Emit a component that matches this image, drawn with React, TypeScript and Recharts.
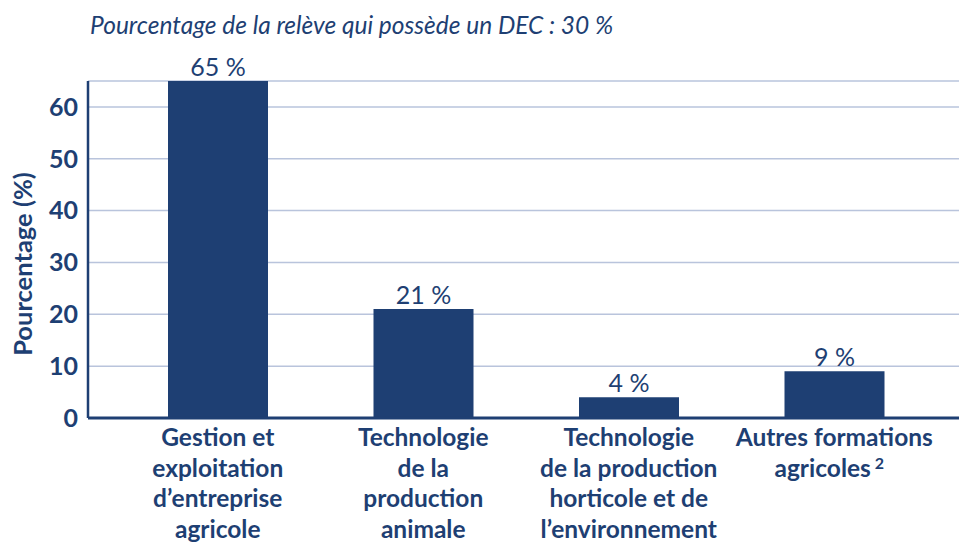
import React from "react";
import { BarChart, Bar, XAxis, YAxis, CartesianGrid, LabelList } from "recharts";

const categories = [
  "Gestion et\nexploitation\nd’entreprise\nagricole",
  "Technologie\nde la\nproduction\nanimale",
  "Technologie\nde la production\nhorticole et de\nl’environnement",
  "Autres formations\nagricoles^2",
];
const values = [65, 21, 4, 9];
const yTicks = [0, 10, 20, 30, 40, 50, 60];
const title = "Pourcentage de la relève qui possède un DEC\u202F: 30 %";
const yLabel = "Pourcentage (%)";

const data = categories.map((c, i) => ({ name: c, value: values[i] }));

const BLUE = "#1e3f73";
const GRID = "#b9c4dc";
const FONT = "Lato, 'Open Sans', sans-serif";

const XTick = (props: any) => {
  const { x, y, payload } = props;
  const lines: string[] = String(payload.value).split("\n");
  return (
    <text x={x} y={y} textAnchor="middle" fill={BLUE} fontFamily={FONT} fontWeight={700} fontSize={24.5}>
      {lines.map((ln, i) => {
        const sup = ln.endsWith("^2");
        const base = sup ? ln.slice(0, -2) : ln;
        return (
          <tspan key={i} x={x + (sup ? -5 : 0)} y={y + 20 + i * 30.5}>
            {base}
            {sup ? (
              <tspan fontSize={16} dy={-8}>{" 2"}</tspan>
            ) : null}
          </tspan>
        );
      })}
    </text>
  );
};

export default function App() {
  return (
    <div style={{ position: "absolute", left: 0, top: 0, width: 959, height: 545, background: "#fff" }}>
      <div
        style={{
          position: "absolute",
          left: 90,
          top: 10,
          fontFamily: FONT,
          fontStyle: "italic",
          fontWeight: 400,
          fontSize: 24.5,
          color: BLUE,
          whiteSpace: "nowrap",
          lineHeight: "30px",
        }}
      >
        {title}
      </div>
      <svg style={{ position: "absolute", left: 0, top: 0, pointerEvents: "none" }} width={959} height={545}>
        <text
          x={0}
          y={0}
          transform="translate(32,264) rotate(-90)"
          textAnchor="middle"
          fill={BLUE}
          fontFamily={FONT}
          fontWeight={700}
          fontSize={25.5}
        >
          {yLabel}
        </text>
      </svg>
      <BarChart
        width={959}
        height={545}
        data={data}
        margin={{ top: 81, right: 0, bottom: 27, left: 0 }}
        style={{ position: "absolute", left: 0, top: 0 }}
      >
        <CartesianGrid vertical={false} stroke={GRID} strokeWidth={1.5} />
        <XAxis
          dataKey="name"
          interval={0}
          height={100}
          padding={{ left: 27, right: 22 }}
          tickLine={false}
          axisLine={{ stroke: BLUE, strokeWidth: 3 }}
          tick={<XTick />}
        />
        <YAxis
          width={88}
          domain={[0, 65]}
          ticks={yTicks}
          interval={0}
          tickLine={false}
          tickMargin={4}
          axisLine={{ stroke: BLUE, strokeWidth: 2.5 }}
          tick={{ fill: BLUE, fontFamily: FONT, fontWeight: 700, fontSize: 25 }}
        />
        <Bar dataKey="value" fill={BLUE} barSize={100} isAnimationActive={false}>
          <LabelList
            dataKey="value"
            position="top"
            offset={5}
            formatter={(v: any) => `${v} %`}
            style={{ fill: BLUE, fontFamily: FONT, fontWeight: 400, fontSize: 25 }}
          />
        </Bar>
      </BarChart>
    </div>
  );
}
